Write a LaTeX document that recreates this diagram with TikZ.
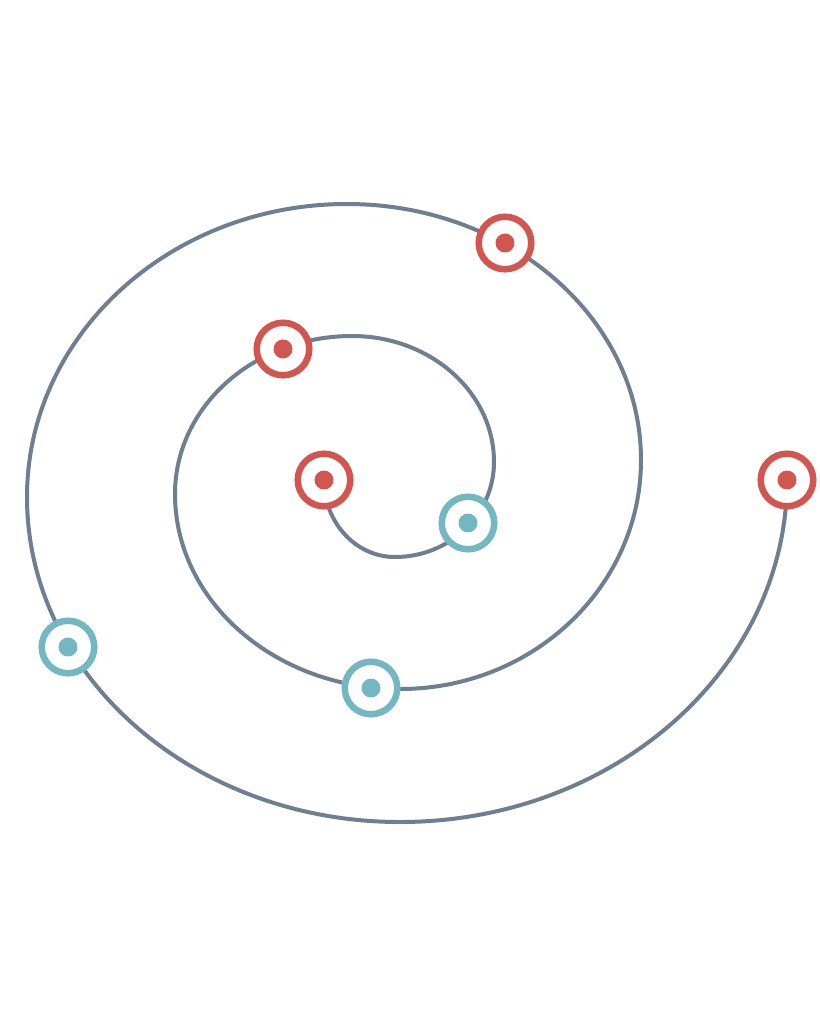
\documentclass[tikz,border=0pt]{standalone}
\definecolor{spiralc}{HTML}{6E7F92}
\definecolor{redc}{HTML}{D0564F}
\definecolor{tealc}{HTML}{73B7C1}
\tikzset{
  markbase/.style={circle, fill=white, line width=4.9pt, minimum size=39.4pt, inner sep=0pt},
  redmark/.style={markbase, draw=redc, path picture={\fill[redc] (path picture bounding box.center) circle (7.1pt);}},
  tealmark/.style={markbase, draw=tealc, path picture={\fill[tealc] (path picture bounding box.center) circle (7.1pt);}},
  spiralline/.style={draw=spiralc, line width=3pt, line cap=round},
}
\begin{document}
\begin{tikzpicture}[x=0.75pt,y=-0.75pt]
\useasboundingbox[fill=white] (0,0) rectangle (819,1024);
\coordinate (s0) at (324,480);
\coordinate (b1) at (395,557);
\coordinate (r1) at (494,462);
\coordinate (t1) at (352,336);
\coordinate (l1) at (175,494);
\coordinate (b2) at (400,689);
\coordinate (r2) at (641,460);
\coordinate (t2) at (347,204);
\coordinate (l2) at (27,497);
\coordinate (b3) at (400,822);
\coordinate (e0) at (787,480);
\draw[spiralline] (s0)
  .. controls (324,522.5) and (355.8,557) .. (b1)
  .. controls (449.7,557) and (494,514.5) .. (r1)
  .. controls (494,392.4) and (430.4,336) .. (t1)
  .. controls (254.2,336) and (175,406.7) .. (l1)
  .. controls (175,601.7) and (275.7,689) .. (b2)
  .. controls (533.1,689) and (641,586.5) .. (r2)
  .. controls (641,318.6) and (509.4,204) .. (t2)
  .. controls (170.3,204) and (27,335.2) .. (l2)
  .. controls (27,676.5) and (194,822) .. (b3)
  .. controls (613.7,822) and (787,668.9) .. (e0);
\node[redmark] (m0) at (s0) {};
\node[tealmark] (m1) at (468,523) {};
\node[redmark] (m2) at (283,349) {};
\node[tealmark] (m3) at (371,688) {};
\node[redmark] (m4) at (505,243) {};
\node[tealmark] (m5) at (68,647) {};
\node[redmark] (m6) at (e0) {};
\end{tikzpicture}
\end{document}
